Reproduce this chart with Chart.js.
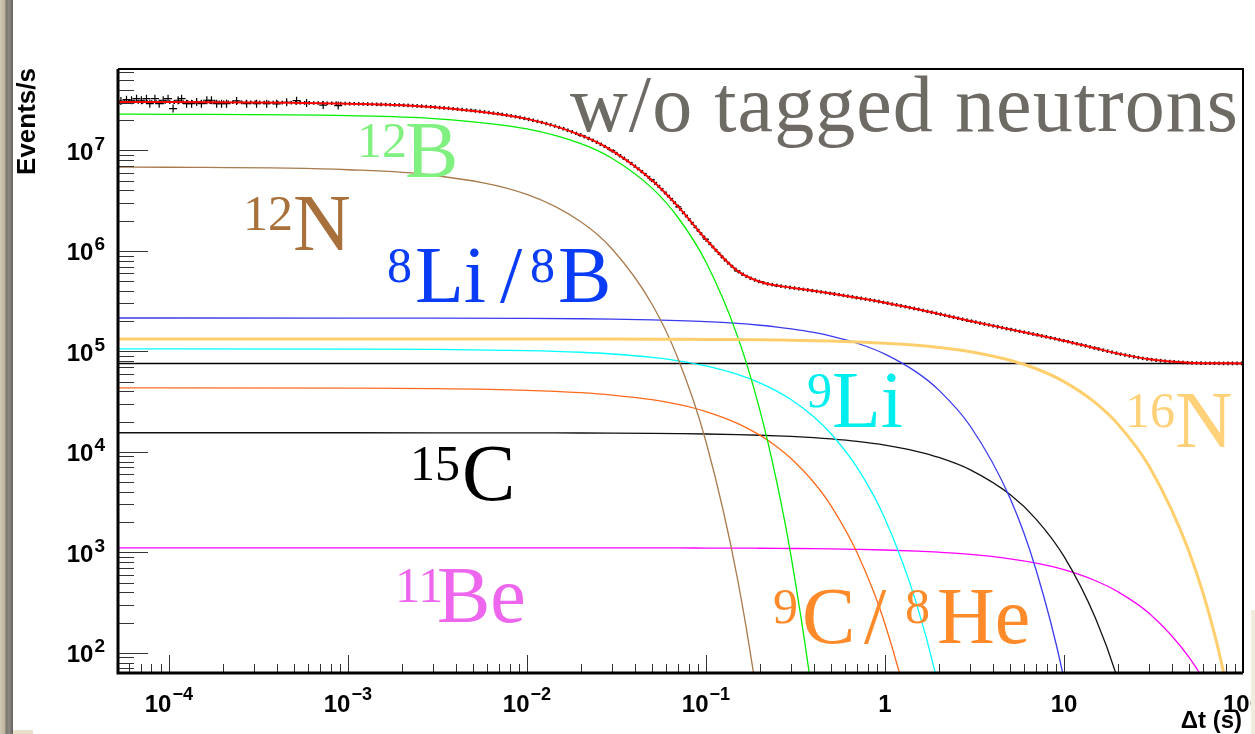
<!DOCTYPE html>
<html>
<head>
<meta charset="utf-8">
<script src="https://cdn.jsdelivr.net/npm/chart.js@4.4.0/dist/chart.umd.min.js"></script>
<style>
  html, body { margin: 0; padding: 0; background: #fff; }
  #wrap { position: relative; width: 1255px; height: 734px; overflow: hidden; }
  canvas { position: absolute; left: 0; top: 0; }
  #edge { position: absolute; left: 0; top: 0; width: 13px; height: 734px;
    background: linear-gradient(to right, #d2c7b3 0, #bdb29e 5px, #77736d 6px, #8d8983 9px, #65625e 13px); }
  #foot { position: absolute; left: 13px; top: 730px; width: 20px; height: 4px; background: #e9dfcc; }
  #redge { position: absolute; left: 1251px; top: 610px; width: 4px; height: 124px; background: #f2ebdf; }
</style>
</head>
<body>
<div id="wrap">
  <canvas id="decayChart" width="1255" height="734"></canvas>
  <div id="edge"></div><div id="foot"></div><div id="redge"></div>
</div>
<script>
// time after muon (s), shared by all fitted curves
const times = [5e-5, 1e-4, 1e-3, 3e-3, 0.01, 0.02, 0.03, 0.05, 0.07, 0.1, 0.15, 0.2, 0.25, 0.3, 0.4,
  0.5, 0.7, 1, 1.5, 2, 3, 5, 7, 10, 15, 20, 30, 50, 70, 100];

// fitted components (events/s)
const total = [3.038e7, 3.032e7, 2.925e7, 2.704e7, 2.062e7, 1.420e7, 9.93e6, 5.066e6, 2.762e6, 1.3066e6,
  6.339e5, 4.94e5, 4.523e5, 4.3077e5, 4.007e5, 3.7748e5, 3.4252e5, 3.0579e5, 2.6459e5, 2.3644e5,
  2.0088e5, 1.6577e5, 1.4677e5, 1.2774e5, 1.0754e5, 9.536e4, 8.337e4, 7.71e4, 7.618e4, 7.6015e4];
const b12 = [2.296e7, 2.292e7, 2.223e7, 2.078e7, 1.639e7, 1.168e7, 8.32e6, 4.22e6, 2.14e6, 7.75e5,
  1.42e5, 2.62e4, 4800, 881, 29.7, 1.0, null, null, null, null, null, null, null, null, null, null, null, null, null, null];
const n12 = [6.83e6, 6.81e6, 6.43e6, 5.67e6, 3.65e6, 1.95e6, 1.04e6, 2.95e5, 8.39e4, 1.27e4,
  549, 23.6, 1.0, null, null, null, null, null, null, null, null, null, null, null, null, null, null, null, null, null];
const li8 = [2.15e5, 2.15e5, 2.148e5, 2.145e5, 2.132e5, 2.115e5, 2.097e5, 2.063e5, 2.029e5, 1.980e5,
  1.899e5, 1.822e5, 1.749e5, 1.678e5, 1.545e5, 1.422e5, 1.206e5, 9.41e4, 6.22e4, 4.12e4,
  1.80e4, 3449, 660, 55, 0.89, null, null, null, null, null];
const n16 = [1.33e5, 1.33e5, 1.33e5, 1.33e5, 1.329e5, 1.327e5, 1.326e5, 1.324e5, 1.321e5, 1.317e5,
  1.311e5, 1.304e5, 1.298e5, 1.292e5, 1.279e5, 1.267e5, 1.242e5, 1.206e5, 1.149e5, 1.094e5,
  9.93e4, 8.17e4, 6.72e4, 5.01e4, 3.08e4, 1.89e4, 7125, 1012, 144, 7.75];
const li9 = [1.06e5, 1.06e5, 1.056e5, 1.048e5, 1.0195e5, 9.81e4, 9.43e4, 8.73e4, 8.07e4, 7.18e4,
  5.91e4, 4.87e4, 4.007e4, 3.30e4, 2.236e4, 1.515e4, 6958, 2159, 309, 44,
  0.9, null, null, null, null, null, null, null, null, null];
const c9 = [4.33e4, 4.33e4, 4.307e4, 4.26e4, 4.10e4, 3.886e4, 3.68e4, 3.305e4, 2.966e4, 2.522e4,
  1.925e4, 1.469e4, 1.121e4, 8556, 4984, 2903, 985, 195, 13, 0.88,
  null, null, null, null, null, null, null, null, null, null];
const c15 = [1.55e4, 1.55e4, 1.55e4, 1.549e4, 1.546e4, 1.541e4, 1.537e4, 1.528e4, 1.519e4, 1.507e4,
  1.486e4, 1.465e4, 1.444e4, 1.424e4, 1.384e4, 1.345e4, 1.271e4, 1.168e4, 1.0135e4, 8798,
  6626, 3760, 2133, 912, 221, 53.7, 3.2, null, null, null];
const be11 = [1110, 1110, 1110, 1110, 1109, 1109, 1108, 1107, 1106, 1104,
  1102, 1099, 1096, 1093, 1088, 1082, 1071, 1056, 1030, 1004,
  955, 863, 781, 672, 522, 406, 246, 90, 32.9, 7.3];
const bkgLevel = 7.6e4;

// measured rate (histogram points)
const dataT = [5.4e-5, 5.8e-5, 6.19e-5, 6.6e-5, 7.03e-5, 7.5e-5, 7.83e-5, 8.36e-5, 8.83e-5, 9.3e-5, 9.9e-5,
  1.056e-4, 1.127e-4, 1.178e-4, 1.256e-4, 1.34e-4, 1.43e-4, 1.52e-4, 1.63e-4, 1.73e-4, 1.85e-4, 1.97e-4,
  2.1e-4, 2.39e-4, 2.72e-4, 3.09e-4, 3.52e-4, 4.0e-4, 4.55e-4, 5.17e-4, 5.88e-4, 7.28e-4, 8.83e-4,
  1.2e-3, 1.5e-3, 2e-3, 2.5e-3, 3e-3, 4e-3, 5e-3, 7e-3, 0.01, 0.02, 0.03, 0.05, 0.07, 0.1, 0.15, 0.2,
  0.25, 0.3, 0.4, 0.5, 0.7, 1, 1.5, 2, 3, 5, 7, 10, 15, 20, 30, 50, 70];
const dataY = [3.1e7, 3.2e7, 3.16e7, 3.28e7, 3.16e7, 3.28e7, 2.92e7, 3.28e7, 2.92e7, 3.16e7, 3.28e7,
  2.61e7, 3.16e7, 3.28e7, 2.92e7, 2.92e7, 3.04e7, 2.92e7, 3.16e7, 3.16e7, 2.92e7, 2.92e7,
  2.92e7, 3.11e7, 2.92e7, 2.92e7, 2.92e7, 2.91e7, 3.02e7, 3.13e7, 2.97e7, 2.83e7, 2.8e7,
  2.92e7, 2.85e7, 2.83e7, 2.74e7, 2.72e7, 2.58e7, 2.51e7, 2.3e7, 2.07e7, 1.41e7, 9.95e6, 5.1e6, 2.75e6,
  1.31e6, 6.3e5, 4.96e5, 4.5e5, 4.32e5, 4.0e5, 3.78e5, 3.41e5, 3.07e5, 2.64e5, 2.37e5, 2.0e5,
  1.66e5, 1.47e5, 1.275e5, 1.078e5, 9.5e4, 8.35e4, 7.7e4, 7.62e4];

// axis ticks
const xTickValues = [1e-4, 1e-3, 1e-2, 1e-1, 1, 10, 100];
const xTickLabels = [["10", "\u22124"], ["10", "\u22123"], ["10", "\u22122"], ["10", "\u22121"], ["1", ""], ["10", ""], ["100", ""]];
const yTickValues = [1e2, 1e3, 1e4, 1e5, 1e6, 1e7];
const yTickLabels = [["10", "2"], ["10", "3"], ["10", "4"], ["10", "5"], ["10", "6"], ["10", "7"]];

const pts = ys => times.map((t, i) => ({ x: t, y: ys[i] }));
const sans = '"Liberation Sans", Arial, Helvetica, sans-serif';
const serif = '"Liberation Serif", "Times New Roman", serif';

function curve(ys, color, width) {
  return {
    data: pts(ys), borderColor: color, borderWidth: width, pointRadius: 0,
    cubicInterpolationMode: "monotone", clip: 0, fill: false
  };
}

// isotope names drawn on the plot (x per part, baseline of the big letters)
const isoLabels = [
  { color: "#80f080", y: 177, parts: [["12", 1, 357], ["B", 0, 405]] },
  { color: "#a8703a", y: 250, parts: [["12", 1, 243], ["N", 0, 293]] },
  { color: "#0a3cf5", y: 302, parts: [["8", 1, 387], ["Li", 0, 415], ["/", 0, 500], ["8", 1, 530], ["B", 0, 558]] },
  { color: "#00eeee", y: 427, parts: [["9", 1, 807], ["Li", 0, 832]] },
  { color: "#ffd27a", y: 447, parts: [["16", 1, 1125], ["N", 0, 1175]] },
  { color: "#000000", y: 500, parts: [["15", 1, 410], ["C", 0, 462]] },
  { color: "#ee66ee", y: 622, parts: [["11", 1, 395], ["Be", 0, 437]] },
  { color: "#ff8a2a", y: 643, parts: [["9", 1, 773], ["C", 0, 802], ["/", 0, 864], ["8", 1, 905], ["He", 0, 937]] },
];

const rootAxes = {
  id: "rootAxes",
  afterDatasetsDraw(chart) {
    const { ctx, chartArea: a, scales: { x, y } } = chart;
    ctx.save();

    // ticks on the left and bottom axis, pointing inwards
    ctx.strokeStyle = "#333";
    ctx.lineWidth = 1;
    for (let e = 1; e <= 8; e++) {
      for (let k = 1; k <= 9; k++) {
        const v = k * Math.pow(10, e);
        if (v < y.min || v > y.max) continue;
        const py = Math.round(y.getPixelForValue(v)) + 0.5;
        ctx.beginPath();
        ctx.moveTo(a.left, py);
        ctx.lineTo(a.left + (k === 1 ? 30 : 16), py);
        ctx.stroke();
      }
    }
    for (let e = -5; e <= 2; e++) {
      for (let k = 1; k <= 9; k++) {
        const v = k * Math.pow(10, e);
        if (v < x.min || v > x.max) continue;
        const px = Math.round(x.getPixelForValue(v)) + 0.5;
        ctx.beginPath();
        ctx.moveTo(px, a.bottom);
        ctx.lineTo(px, a.bottom - (k === 1 ? 18 : 9));
        ctx.stroke();
      }
    }

    // frame
    ctx.strokeStyle = "#000";
    ctx.lineWidth = 3;
    ctx.beginPath();
    ctx.moveTo(a.left, a.top); ctx.lineTo(a.left, a.bottom); ctx.lineTo(a.right, a.bottom);
    ctx.stroke();
    ctx.lineWidth = 2;
    ctx.beginPath();
    ctx.moveTo(a.left, a.top); ctx.lineTo(a.right, a.top); ctx.lineTo(a.right, a.bottom);
    ctx.stroke();

    // tick labels
    ctx.fillStyle = "#000";
    ctx.textBaseline = "alphabetic";
    ctx.textAlign = "left";
    yTickValues.forEach((v, i) => {
      const py = y.getPixelForValue(v);
      const [base, ex] = yTickLabels[i];
      ctx.font = "bold 19px " + sans;
      const we = ctx.measureText(ex).width;
      ctx.fillText(ex, a.left - 13 - we, py - 0.5);
      ctx.font = "bold 24px " + sans;
      const wb = ctx.measureText(base).width;
      ctx.fillText(base, a.left - 13 - we - wb - 1, py + 9.5);
    });
    xTickValues.forEach((v, i) => {
      const px = x.getPixelForValue(v);
      const [base, ex] = xTickLabels[i];
      ctx.font = "bold 24px " + sans;
      const wb = ctx.measureText(base).width;
      ctx.font = "bold 18px " + sans;
      const we = ex ? ctx.measureText(ex).width + 1 : 0;
      const x0 = px - (wb + we) / 2;
      ctx.font = "bold 24px " + sans;
      ctx.fillText(base, x0, a.bottom + 39);
      if (ex) {
        ctx.font = "bold 18px " + sans;
        ctx.fillText(ex, x0 + wb + 1, a.bottom + 27);
      }
    });

    // axis titles
    ctx.font = "bold 24px " + sans;
    ctx.textAlign = "right";
    ctx.fillText("\u0394t (s)", a.right - 1, a.bottom + 55);
    ctx.save();
    ctx.translate(35, a.top - 1);
    ctx.rotate(-Math.PI / 2);
    ctx.font = "bold 26px " + sans;
    ctx.textAlign = "right";
    ctx.fillText("Events/s", 0, 0);
    ctx.restore();

    // isotope names
    ctx.textAlign = "left";
    isoLabels.forEach(l => {
      ctx.fillStyle = l.color;
      l.parts.forEach(([txt, sup, px]) => {
        ctx.font = (sup ? "50px " : "80px ") + serif;
        ctx.fillText(txt, px, sup ? l.y - 20 : l.y);
      });
    });

    // title
    ctx.fillStyle = "#6e6b65";
    ctx.font = "80px " + serif;
    const title = "w/o tagged neutrons";
    const tw = ctx.measureText(title).width;
    if ("letterSpacing" in ctx) ctx.letterSpacing = ((668 - tw) / (title.length - 1)) + "px";
    ctx.fillText(title, 570, 131);
    ctx.restore();
  }
};

let ctx = document.getElementById("decayChart");

let decayChart = new Chart(ctx, {
  type: "line",
  data: {
    datasets: [
      curve(total, "#ff0000", 2),
      {
        data: dataT.map((t, i) => ({ x: t, y: dataY[i] })),
        showLine: false, clip: 0,
        pointStyle: (c) => (c.raw && c.raw.x < 1e-3 ? "cross" : "line"),
        pointRadius: (c) => (c.raw && c.raw.x < 1e-3 ? 4 : 3),
        pointBorderColor: "#000", pointBorderWidth: 1.2
      },
      Object.assign(curve(total, "#000000", 3.6), { borderDash: [1.5, 3] }),
      curve(n16, "#ffcf6e", 3),
      curve(b12, "#00ee00", 1.3),
      curve(n12, "#a87a4c", 1.3),
      curve(li8, "#3a3af0", 1.3),
      curve(li9, "#00ffff", 1.3),
      curve(c9, "#ff6a1a", 1.3),
      curve(c15, "#111111", 1.3),
      curve(be11, "#ff00ff", 1.3),
      {
        data: [{ x: times[0], y: bkgLevel }, { x: times[times.length - 1], y: bkgLevel }],
        borderColor: "#000", borderWidth: 1.5, pointRadius: 0, clip: 0
      }
    ]
  },
  options: {
    responsive: false,
    animation: false,
    layout: { padding: { left: 118, top: 69, right: 12, bottom: 61 } },
    scales: {
      x: { type: "logarithmic", min: 5.2e-5, max: 100, display: false },
      y: { type: "logarithmic", min: 63, max: 6.47e7, display: false }
    },
    plugins: { legend: { display: false }, tooltip: { enabled: false } }
  },
  plugins: [rootAxes]
});
</script>
</body>
</html>
